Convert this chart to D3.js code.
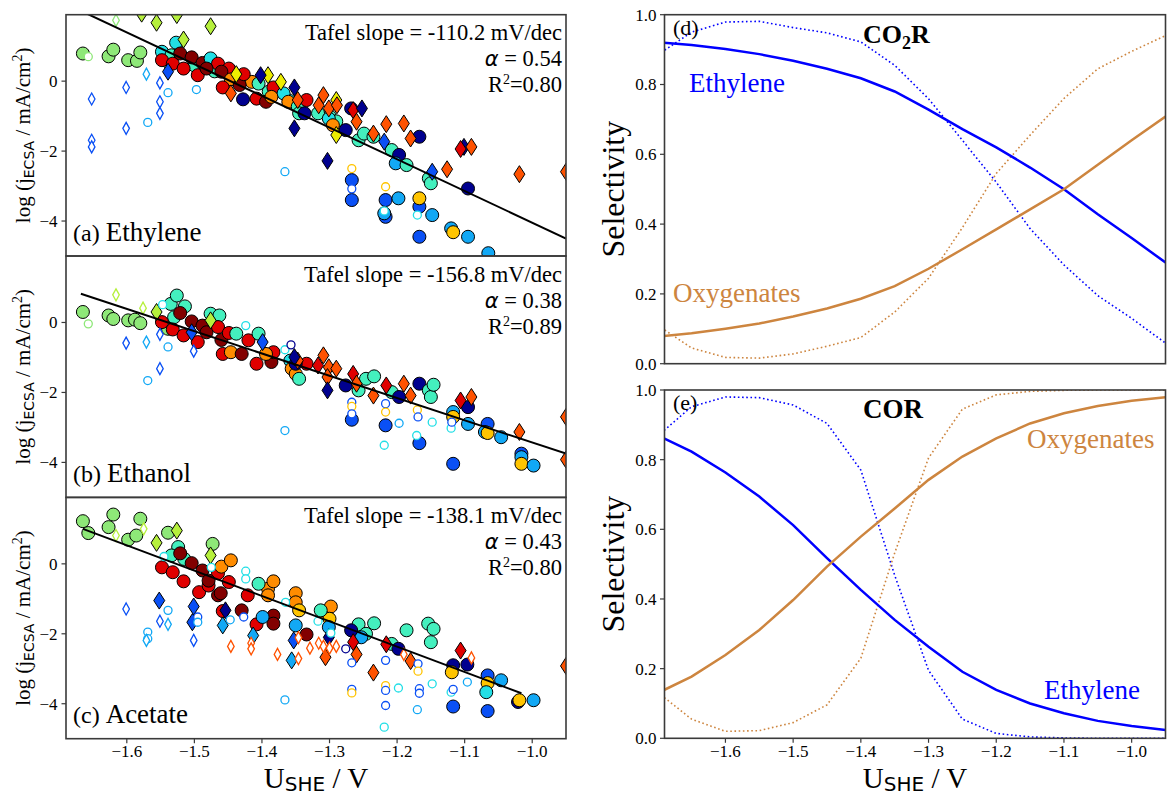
<!DOCTYPE html>
<html>
<head>
<meta charset="utf-8">
<script src="https://cdnjs.cloudflare.com/ajax/libs/d3/7.8.5/d3.min.js"></script>
<style>
    body { margin: 0; background: #fff; }
    svg { display: block; }
    text { font-family: "Liberation Serif", "Times New Roman", serif; fill: #000; }
</style>
</head>
<body>
<svg id="fig" width="1167" height="796"></svg>
<script>
// jet-like colours used by the markers
var jet = {
    nv: '#00008f', bl: '#0a50f5', sk: '#12a8f5', cy: '#22dfe6', tl: '#44f0be',
    lg: '#8ee878', yg: '#b6f03c', ye: '#eeee00', gd: '#ffc400', or: '#ff8c00',
    ro: '#ff5200', rd: '#e00000', dr: '#820000'
};

// ---- (a) Ethylene : [U_SHE, log j, colour]
var ethyleneCircles = [
    [-1.665,0.79,'lg'],[-1.627,0.71,'lg'],[-1.620,0.90,'lg'],[-1.598,0.60,'lg'],[-1.585,0.58,'lg'],[-1.580,0.82,'lg'],
    [-1.539,0.55,'lg'],[-1.548,0.84,'cy'],[-1.527,1.10,'cy'],[-1.534,0.74,'tl'],[-1.500,0.45,'tl'],[-1.470,0.28,'tl'],
    [-1.440,0.15,'cy'],[-1.415,-0.02,'or'],[-1.390,-0.30,'tl'],[-1.360,-0.55,'cy'],[-1.300,-1.00,'tl'],[-1.290,-1.15,'tl'],
    [-1.548,0.60,'rd'],[-1.532,0.50,'rd'],[-1.516,0.36,'rd'],[-1.495,0.17,'rd'],
    [-1.521,0.79,'dr'],[-1.504,0.68,'dr'],[-1.488,0.52,'dr'],[-1.476,0.65,'cy'],[-1.465,0.50,'rd'],
    [-1.482,0.36,'dr'],[-1.449,0.36,'rd'],[-1.460,0.27,'dr'],[-1.446,0.05,'or'],[-1.458,-0.18,'rd'],
    [-1.433,-0.11,'dr'],[-1.427,0.20,'rd'],[-1.405,-0.07,'tl'],[-1.428,-0.52,'nv'],[-1.408,-0.50,'rd'],
    [-1.394,-0.59,'dr'],[-1.383,-0.18,'rd'],[-1.368,-0.35,'cy'],[-1.386,-0.45,'or'],[-1.361,-0.59,'or'],
    [-1.347,-0.73,'tl'],[-1.345,-0.92,'tl'],[-1.334,-0.54,'rd'],[-1.337,-0.92,'nv'],[-1.317,-0.92,'tl'],
    [-1.301,-1.07,'cy'],[-1.295,-1.26,'or'],[-1.276,-1.40,'nv'],[-1.268,-0.78,'nv'],[-1.257,-1.69,'tl'],
    [-1.249,-1.50,'tl'],[-1.235,-1.59,'tl'],[-1.208,-1.97,'tl'],[-1.197,-2.11,'nv'],[-1.202,-2.35,'sk'],
    [-1.186,-2.40,'tl'],[-1.167,-1.59,'nv'],[-1.153,-2.78,'tl'],[-1.150,-2.92,'tl'],[-1.095,-3.07,'nv'],
    [-1.267,-2.83,'bl'],[-1.267,-3.40,'bl'],[-1.217,-3.40,'bl'],[-1.217,-3.88,'bl'],[-1.219,-3.78,'sk'],
    [-1.198,-3.35,'sk'],[-1.167,-3.59,'bl'],[-1.167,-4.45,'bl'],[-1.167,-3.35,'gd'],[-1.148,-3.83,'sk'],
    [-1.120,-4.21,'sk'],[-1.117,-4.32,'gd'],[-1.095,-4.45,'sk'],[-1.065,-4.92,'sk']
];
var ethyleneDiamonds = [
    [-1.578,1.93,'yg'],[-1.556,1.67,'yg'],[-1.526,1.89,'yg'],[-1.516,1.19,'yg'],[-1.476,1.57,'yg'],
    [-1.539,0.27,'bl'],[-1.438,0.20,'ye'],[-1.391,0.17,'ye'],[-1.372,-0.02,'ye'],[-1.290,-0.54,'ye'],[-1.290,-1.54,'ye'],
    [-1.446,-0.35,'ro'],[-1.347,-0.54,'ro'],[-1.316,-0.69,'ro'],[-1.309,-0.40,'ro'],[-1.301,-0.78,'ro'],[-1.289,-0.69,'ro'],
    [-1.265,-0.83,'rd'],[-1.260,-1.16,'ro'],[-1.235,-1.50,'ro'],[-1.216,-1.23,'ro'],[-1.190,-1.21,'ro'],[-1.180,-1.64,'ro'],
    [-1.126,-2.52,'ro'],[-1.101,-1.88,'nv'],[-1.106,-1.94,'rd'],[-1.090,-1.88,'ro'],[-1.019,-2.66,'ro'],[-0.950,-2.59,'ro'],
    [-1.352,-0.18,'nv'],[-1.352,-1.35,'nv'],[-1.303,-2.28,'nv'],[-1.252,-0.78,'nv'],
    [-1.219,-1.73,'bl'],[-1.148,-2.59,'bl'],[-1.402,0.17,'nv']
];
var ethyleneOpenCircles = [
    [-1.657,0.70,'lg'],[-1.539,-0.33,'sk'],[-1.569,-1.18,'sk'],[-1.497,-0.24,'sk'],[-1.366,-2.59,'sk'],
    [-1.267,-2.50,'gd'],[-1.267,-3.08,'bl'],[-1.217,-3.02,'gd'],[-1.219,-3.71,'cy'],[-1.170,-3.83,'cy']
];
var ethyleneOpenDiamonds = [
    [-1.616,1.74,'lg'],[-1.652,-0.51,'bl'],[-1.652,-1.69,'bl'],[-1.652,-1.88,'bl'],[-1.601,-0.18,'bl'],
    [-1.601,-1.35,'bl'],[-1.571,0.20,'sk'],[-1.551,-0.05,'bl'],[-1.551,-0.59,'bl'],[-1.551,-0.92,'bl']
];
var ethyleneFit = [[-1.69, 2.21], [-0.95, -4.50]];

// ---- (b) Ethanol
var ethanolCircles = [
    [-1.665,0.30,'lg'],[-1.627,0.20,'lg'],[-1.620,0.10,'lg'],[-1.598,0.06,'lg'],[-1.588,0.08,'lg'],[-1.580,-0.02,'lg'],
    [-1.535,0.53,'tl'],[-1.526,0.77,'tl'],[-1.514,0.46,'tl'],[-1.530,0.15,'tl'],[-1.539,-0.18,'lg'],
    [-1.548,0.01,'rd'],[-1.532,-0.20,'rd'],[-1.516,-0.37,'rd'],[-1.495,-0.56,'rd'],
    [-1.521,0.27,'dr'],[-1.504,0.03,'dr'],[-1.488,-0.09,'dr'],[-1.482,-0.28,'dr'],
    [-1.476,0.25,'tl'],[-1.463,0.20,'tl'],[-1.465,-0.13,'rd'],[-1.460,-0.50,'dr'],[-1.458,-0.90,'rd'],
    [-1.449,-0.30,'rd'],[-1.438,-0.32,'tl'],[-1.446,-0.85,'or'],[-1.430,-0.90,'dr'],[-1.420,-0.51,'rd'],
    [-1.405,-0.32,'tl'],[-1.408,-1.18,'rd'],[-1.386,-1.13,'dr'],[-1.383,-0.85,'rd'],[-1.394,-0.90,'or'],
    [-1.358,-1.09,'cy'],[-1.356,-1.32,'or'],[-1.350,-1.47,'or'],[-1.345,-1.61,'tl'],[-1.334,-1.18,'rd'],[-1.350,-1.18,'nv'],
    [-1.276,-1.80,'nv'],[-1.257,-1.94,'tl'],[-1.246,-1.61,'tl'],[-1.234,-1.54,'tl'],[-1.208,-1.99,'tl'],[-1.197,-2.13,'nv'],
    [-1.167,-1.75,'nv'],[-1.153,-1.94,'tl'],[-1.150,-2.13,'tl'],[-1.146,-1.78,'tl'],
    [-1.117,-2.56,'sk'],[-1.117,-2.70,'gd'],[-1.095,-2.42,'nv'],[-1.095,-2.90,'sk'],
    [-1.066,-2.90,'bl'],[-1.070,-3.13,'sk'],[-1.066,-3.16,'gd'],[-1.046,-3.28,'sk'],
    [-1.016,-3.75,'bl'],[-1.016,-3.85,'sk'],[-1.016,-4.04,'gd'],[-0.998,-4.09,'sk'],
    [-1.267,-2.78,'bl'],[-1.217,-2.94,'bl'],[-1.167,-3.45,'bl'],[-1.117,-4.04,'bl']
];
var ethanolDiamonds = [
    [-1.556,0.30,'yg'],[-1.476,0.06,'yg'],[-1.504,-0.28,'bl'],[-1.399,-0.56,'bl'],
    [-1.347,-1.09,'ro'],[-1.317,-1.23,'rd'],[-1.309,-0.94,'ro'],[-1.301,-1.28,'ro'],[-1.290,-1.32,'ro'],[-1.303,-1.56,'ro'],
    [-1.265,-1.47,'rd'],[-1.260,-1.75,'ro'],[-1.235,-2.09,'ro'],[-1.216,-1.80,'rd'],[-1.190,-1.75,'ro'],[-1.180,-2.09,'ro'],
    [-1.106,-2.23,'rd'],[-1.090,-2.13,'ro'],[-1.019,-3.13,'ro'],[-0.950,-2.70,'ro'],[-0.950,-3.92,'ro'],
    [-1.303,-1.94,'nv'],[-1.352,-0.99,'nv']
];
var ethanolOpenCircles = [
    [-1.657,-0.04,'lg'],[-1.547,0.51,'cy'],[-1.539,-0.70,'sk'],[-1.569,-1.66,'sk'],[-1.424,-0.09,'cy'],
    [-1.366,-0.78,'cy'],[-1.357,-0.64,'nv'],[-1.366,-3.09,'sk'],
    [-1.267,-2.28,'bl'],[-1.267,-2.40,'gd'],[-1.267,-2.61,'bl'],[-1.217,-2.32,'bl'],[-1.217,-2.56,'gd'],
    [-1.219,-3.51,'cy'],[-1.197,-2.88,'sk'],[-1.170,-2.50,'gd'],[-1.169,-2.70,'bl'],[-1.171,-3.23,'cy'],
    [-1.148,-2.85,'cy'],[-1.120,-3.02,'cy'],[-1.119,-2.85,'bl']
];
var ethanolOpenDiamonds = [
    [-1.616,0.79,'yg'],[-1.576,0.41,'yg'],[-1.601,-0.59,'bl'],[-1.571,-0.56,'sk'],
    [-1.551,-0.34,'bl'],[-1.551,-1.32,'bl'],[-1.501,-0.82,'bl']
];
var ethanolFit = [[-1.668, 0.82], [-0.95, -3.75]];

// ---- (c) Acetate
var acetateCircles = [
    [-1.665,1.22,'lg'],[-1.657,0.88,'lg'],[-1.627,1.05,'lg'],[-1.620,1.41,'lg'],[-1.598,0.69,'lg'],[-1.586,0.81,'lg'],[-1.580,1.29,'lg'],
    [-1.539,0.89,'lg'],[-1.524,0.48,'tl'],[-1.534,0.24,'tl'],[-1.515,0.14,'tl'],[-1.473,0.57,'lg'],
    [-1.548,-0.10,'rd'],[-1.532,-0.24,'rd'],[-1.516,-0.50,'rd'],[-1.493,-0.81,'rd'],[-1.479,-0.62,'rd'],[-1.465,-0.27,'rd'],
    [-1.449,-0.52,'rd'],[-1.458,-1.35,'rd'],[-1.421,-0.90,'rd'],[-1.408,-1.73,'rd'],
    [-1.521,0.30,'dr'],[-1.504,0.02,'dr'],[-1.488,-0.19,'dr'],[-1.479,-0.48,'dr'],[-1.465,-0.90,'dr'],[-1.461,-0.84,'dr'],
    [-1.430,-1.33,'dr'],[-1.383,-1.48,'dr'],[-1.383,-1.71,'dr'],[-1.334,-2.02,'dr'],
    [-1.460,-0.08,'or'],[-1.446,0.10,'or'],[-1.391,-0.71,'or'],[-1.383,-0.50,'or'],[-1.391,-0.90,'or'],[-1.350,-0.84,'or'],
    [-1.350,-1.10,'or'],[-1.345,-1.33,'gd'],[-1.306,-1.43,'or'],[-1.298,-1.22,'or'],[-1.300,-1.57,'gd'],
    [-1.405,-0.57,'tl'],[-1.313,-1.33,'tl'],[-1.257,-1.73,'tl'],[-1.234,-1.70,'tl'],[-1.246,-2.00,'tl'],[-1.208,-2.29,'tl'],
    [-1.186,-1.90,'tl'],[-1.154,-1.71,'tl'],[-1.146,-1.86,'tl'],[-1.150,-2.24,'tl'],
    [-1.399,-1.52,'sk'],[-1.350,-1.76,'sk'],[-1.301,-1.81,'sk'],[-1.253,-2.10,'sk'],
    [-1.268,-1.90,'nv'],[-1.198,-2.43,'nv'],[-1.117,-2.90,'nv'],[-1.096,-2.88,'nv'],[-1.119,-3.10,'gd'],
    [-1.066,-3.19,'bl'],[-1.066,-3.41,'gd'],[-1.068,-3.67,'cy'],[-1.046,-3.33,'sk'],[-1.021,-3.95,'nv'],[-1.019,-3.90,'gd'],
    [-0.998,-3.90,'sk'],[-1.117,-4.08,'bl'],[-1.066,-4.21,'bl']
];
var acetateDiamonds = [
    [-1.556,0.60,'yg'],[-1.526,0.95,'yg'],[-1.476,0.24,'yg'],[-1.552,-1.05,'bl'],[-1.501,-1.22,'bl'],[-1.503,-1.67,'bl'],
    [-1.458,-1.76,'sk'],[-1.454,-1.33,'nv'],[-1.413,-2.05,'sk'],[-1.353,-2.19,'bl'],[-1.356,-2.76,'sk'],[-1.301,-2.10,'nv'],
    [-1.265,-2.24,'rd'],[-1.260,-2.59,'ro'],[-1.306,-2.67,'ro'],[-1.235,-3.11,'ro'],[-1.216,-2.30,'rd'],[-1.180,-2.78,'ro'],
    [-1.106,-2.48,'rd'],[-0.950,-2.92,'ro']
];
var acetateOpenCircles = [
    [-1.545,0.21,'cy'],[-1.539,-1.33,'sk'],[-1.569,-1.95,'sk'],[-1.569,-2.14,'sk'],[-1.495,-1.52,'bl'],[-1.495,-1.67,'sk'],
    [-1.475,-0.10,'cy'],[-1.447,-1.60,'sk'],[-1.424,-0.21,'cy'],[-1.424,-0.43,'cy'],[-1.427,-1.52,'bl'],[-1.365,-1.10,'cy'],
    [-1.366,-3.89,'sk'],[-1.317,-1.64,'cy'],[-1.298,-1.98,'cy'],[-1.276,-2.43,'nv'],[-1.267,-2.83,'bl'],[-1.267,-3.59,'bl'],
    [-1.267,-3.69,'gd'],[-1.217,-2.76,'bl'],[-1.217,-3.48,'gd'],[-1.217,-3.62,'bl'],[-1.217,-4.05,'bl'],[-1.219,-4.67,'cy'],
    [-1.198,-3.55,'cy'],[-1.169,-2.86,'bl'],[-1.169,-3.07,'gd'],[-1.167,-3.57,'bl'],[-1.167,-3.70,'bl'],[-1.170,-4.17,'sk'],
    [-1.148,-3.43,'cy'],[-1.120,-3.67,'cy'],[-1.117,-3.59,'bl'],[-1.096,-3.38,'sk']
];
var acetateOpenDiamonds = [
    [-1.616,0.81,'yg'],[-1.575,1.00,'yg'],[-1.601,-1.29,'bl'],[-1.551,-1.64,'bl'],[-1.539,-1.73,'sk'],[-1.501,-2.19,'bl'],
    [-1.571,-2.19,'sk'],[-1.446,-2.36,'ro'],[-1.416,-2.27,'ro'],[-1.416,-2.43,'ro'],[-1.377,-2.59,'ro'],[-1.346,-2.11,'ro'],
    [-1.346,-2.71,'ro'],[-1.329,-2.41,'ro'],[-1.316,-2.27,'ro'],[-1.309,-2.36,'ro'],[-1.300,-2.41,'ro'],[-1.290,-2.36,'ro'],
    [-1.190,-2.59,'ro'],[-1.090,-2.69,'ro']
];
var acetateFit = [[-1.665, 1.00], [-1.016, -3.70]];

// ---- selectivity curves (d) CO2R and (e) COR
var voltGrid = [-1.70,-1.65,-1.60,-1.55,-1.50,-1.45,-1.40,-1.35,-1.30,-1.25,-1.20,-1.15,-1.10,-1.05,-1.00,-0.95];
var co2rEthylene       = [0.921,0.913,0.902,0.887,0.868,0.845,0.818,0.780,0.728,0.672,0.620,0.562,0.500,0.428,0.360,0.290];
var co2rOxygenates     = [0.078,0.087,0.100,0.115,0.135,0.158,0.186,0.222,0.272,0.328,0.385,0.442,0.500,0.570,0.640,0.708];
var co2rEthyleneDot    = [0.885,0.950,0.979,0.981,0.963,0.948,0.922,0.855,0.759,0.640,0.520,0.387,0.283,0.195,0.130,0.059];
var co2rOxygenatesDot  = [0.110,0.045,0.018,0.016,0.028,0.050,0.075,0.148,0.245,0.390,0.545,0.655,0.760,0.845,0.895,0.940];
var corEthylene        = [0.870,0.823,0.763,0.694,0.612,0.517,0.426,0.340,0.263,0.191,0.139,0.100,0.072,0.050,0.035,0.024];
var corOxygenates      = [0.130,0.177,0.239,0.311,0.397,0.493,0.579,0.660,0.742,0.809,0.861,0.904,0.933,0.954,0.969,0.979];
var corEthyleneDot     = [0.868,0.952,0.980,0.978,0.957,0.904,0.770,0.468,0.195,0.055,0.014,0.004,0.001,0.000,0.000,0.000];
var corOxygenatesDot   = [0.132,0.055,0.020,0.022,0.045,0.096,0.230,0.532,0.805,0.945,0.986,0.996,0.999,1.000,1.000,1.000];

var xTicks = [-1.6,-1.5,-1.4,-1.3,-1.2,-1.1,-1.0];
var logTicks = [-4,-2,0];
var selTicks = [0,0.2,0.4,0.6,0.8,1.0];

var BLUE = '#0000ff', ORANGE = '#cd853f', FRAME = '#3a3a3a';

var svg = d3.select('#fig');
var fmt1 = d3.format('.1f');

var xLeft = d3.scaleLinear().domain([-1.69, -0.95]).range([66, 566]);
var xRight = d3.scaleLinear().domain([-1.69, -0.95]).range([664.5, 1165.5]);

function thinDiamond(hw, hh) {
    var p = d3.path();
    p.moveTo(0, -hh); p.lineTo(hw, 0); p.lineTo(0, hh); p.lineTo(-hw, 0); p.closePath();
    return p.toString();
}

function addClip(id, x0, y0, x1, y1) {
    svg.append('clipPath').attr('id', id).append('rect')
        .attr('x', x0).attr('y', y0).attr('width', x1 - x0).attr('height', y1 - y0);
}

function tafelPanel(p) {
    var y = d3.scaleLinear().domain([-5, 1.9]).range([p.bottom, p.top]);
    addClip('clip_' + p.id, 66, p.top, 566, p.bottom);
    var g = svg.append('g').attr('clip-path', 'url(#clip_' + p.id + ')');

    g.selectAll('circle.fc').data(p.circles).enter().append('circle')
        .attr('cx', d => xLeft(d[0])).attr('cy', d => y(d[1])).attr('r', 6.5)
        .attr('fill', d => jet[d[2]]).attr('stroke', '#000').attr('stroke-width', 1);

    g.selectAll('path.fd').data(p.diamonds).enter().append('path')
        .attr('d', thinDiamond(5.5, 8.5))
        .attr('transform', d => 'translate(' + xLeft(d[0]) + ',' + y(d[1]) + ')')
        .attr('fill', d => jet[d[2]]).attr('stroke', '#000').attr('stroke-width', 1);

    g.selectAll('circle.oc').data(p.openCircles).enter().append('circle')
        .attr('cx', d => xLeft(d[0])).attr('cy', d => y(d[1])).attr('r', 4)
        .attr('fill', '#fff').attr('stroke', d => jet[d[2]]).attr('stroke-width', 1.3);

    g.selectAll('path.od').data(p.openDiamonds).enter().append('path')
        .attr('d', thinDiamond(3.3, 6))
        .attr('transform', d => 'translate(' + xLeft(d[0]) + ',' + y(d[1]) + ')')
        .attr('fill', '#fff').attr('stroke', d => jet[d[2]]).attr('stroke-width', 1.3);

    g.append('path').datum(p.fit)
        .attr('d', d3.line().x(d => xLeft(d[0])).y(d => y(d[1])))
        .attr('fill', 'none').attr('stroke', '#000').attr('stroke-width', 2);

    svg.append('rect').attr('x', 66).attr('y', p.top).attr('width', 500).attr('height', p.bottom - p.top)
        .attr('fill', 'none').attr('stroke', FRAME).attr('stroke-width', 1.6);

    logTicks.forEach(function(t) {
        svg.append('line').attr('x1', 61.5).attr('x2', 66).attr('y1', y(t)).attr('y2', y(t))
            .attr('stroke', FRAME).attr('stroke-width', 1.2);
        svg.append('text').attr('x', 57.5).attr('y', y(t)).attr('dy', '0.35em')
            .attr('text-anchor', 'end').style('font-size', '17px')
            .text(t < 0 ? '\u2212' + Math.abs(t) : t);
    });

    // annotations
    svg.append('text').attr('x', 562).attr('y', p.top + 25.5).attr('text-anchor', 'end')
        .style('font-size', '22.5px').text('Tafel slope = ' + p.slope + ' mV/dec');
    var ta = svg.append('text').attr('x', 562).attr('y', p.top + 51.5).attr('text-anchor', 'end').style('font-size', '22.5px');
    ta.append('tspan').style('font-family', '"DejaVu Sans", sans-serif').style('font-style', 'italic').style('font-size', '21px').text('\u03b1');
    ta.append('tspan').text(' = ' + p.alpha);
    var tr = svg.append('text').attr('x', 562).attr('y', p.top + 77.5).attr('text-anchor', 'end').style('font-size', '22.5px');
    tr.append('tspan').text('R');
    tr.append('tspan').attr('dy', -8).style('font-size', '14px').text('2');
    tr.append('tspan').attr('dy', 8).text('=' + p.r2);

    var tn = svg.append('text').attr('x', 73).attr('y', p.top + 226);
    tn.append('tspan').style('font-size', '24px').text('(' + p.id + ') ');
    tn.append('tspan').style('font-size', '27px').text(p.name);

    // y label
    var cy = (p.top + p.bottom) / 2;
    var yl = svg.append('text').attr('transform', 'translate(30,' + cy + ') rotate(-90)')
        .attr('text-anchor', 'middle').style('font-size', '21px');
    yl.append('tspan').text('log (j');
    yl.append('tspan').attr('dy', 4).style('font-family', '"DejaVu Sans", sans-serif').style('font-size', '14px').text('ECSA');
    yl.append('tspan').attr('dy', -4).text(' / mA/cm');
    yl.append('tspan').attr('dy', -8).style('font-size', '14px').text('2');
    yl.append('tspan').attr('dy', 8).text(')');
}

function selPanel(p) {
    var y = d3.scaleLinear().domain([0, 1]).range([p.bottom, p.top]);
    addClip('clip_' + p.id, 664.5, p.top, 1165.5, p.bottom);
    var g = svg.append('g').attr('clip-path', 'url(#clip_' + p.id + ')');
    var line = d3.line().x((d, i) => xRight(voltGrid[i])).y(d => y(d));

    p.series.forEach(function(s) {
        g.append('path').datum(s.values).attr('d', line)
            .attr('fill', 'none').attr('stroke', s.color)
            .attr('stroke-width', s.dotted ? 1.6 : 2.5)
            .attr('stroke-dasharray', s.dotted ? '1.6,2.6' : null);
    });

    svg.append('rect').attr('x', 664.5).attr('y', p.top).attr('width', 501).attr('height', p.bottom - p.top)
        .attr('fill', 'none').attr('stroke', FRAME).attr('stroke-width', 1.6);

    selTicks.forEach(function(t) {
        svg.append('line').attr('x1', 660).attr('x2', 664.5).attr('y1', y(t)).attr('y2', y(t))
            .attr('stroke', FRAME).attr('stroke-width', 1.2);
        svg.append('text').attr('x', 656.5).attr('y', y(t)).attr('dy', '0.35em')
            .attr('text-anchor', 'end').style('font-size', '17px').text(fmt1(t));
    });

    svg.append('text').attr('x', 673).attr('y', p.top + 20).style('font-size', '22px').text('(' + p.id + ')');

    var tt = svg.append('text').attr('x', 863).attr('y', p.top + 28)
        .style('font-size', '26px').style('font-weight', 'bold');
    p.title.forEach(function(part) {
        tt.append('tspan').attr('dy', part.dy || 0).style('font-size', part.size || null).text(part.t);
    });

    p.labels.forEach(function(l) {
        svg.append('text').attr('x', l.x).attr('y', l.y).style('font-size', '27px')
            .style('fill', l.color).text(l.t);
    });

    svg.append('text').attr('transform', 'translate(624,' + (p.top + p.bottom) / 2 + ') rotate(-90)')
        .attr('text-anchor', 'middle').style('font-size', '32px').text('Selectivity');
}

function xAxisBottom(scale, bottom) {
    xTicks.forEach(function(t) {
        svg.append('line').attr('x1', scale(t)).attr('x2', scale(t)).attr('y1', bottom).attr('y2', bottom + 4.5)
            .attr('stroke', FRAME).attr('stroke-width', 1.2);
        svg.append('text').attr('x', scale(t)).attr('y', bottom + 18.5).attr('text-anchor', 'middle')
            .style('font-size', '17px').text(fmt1(t));
    });
    var cx = (scale.range()[0] + scale.range()[1]) / 2;
    var xl = svg.append('text').attr('x', cx).attr('y', 788).attr('text-anchor', 'middle').style('font-size', '29px');
    xl.append('tspan').text('U');
    xl.append('tspan').attr('dy', 2.5).style('font-family', '"DejaVu Sans", sans-serif').style('font-size', '20px').text('SHE');
    xl.append('tspan').attr('dy', -2.5).text(' / V');
}

[
    {id: 'a', name: 'Ethylene', top: 14.7, bottom: 256, circles: ethyleneCircles, diamonds: ethyleneDiamonds,
     openCircles: ethyleneOpenCircles, openDiamonds: ethyleneOpenDiamonds, fit: ethyleneFit,
     slope: '-110.2', alpha: '0.54', r2: '0.80'},
    {id: 'b', name: 'Ethanol', top: 256, bottom: 497.4, circles: ethanolCircles, diamonds: ethanolDiamonds,
     openCircles: ethanolOpenCircles, openDiamonds: ethanolOpenDiamonds, fit: ethanolFit,
     slope: '-156.8', alpha: '0.38', r2: '0.89'},
    {id: 'c', name: 'Acetate', top: 497.4, bottom: 738.7, circles: acetateCircles, diamonds: acetateDiamonds,
     openCircles: acetateOpenCircles, openDiamonds: acetateOpenDiamonds, fit: acetateFit,
     slope: '-138.1', alpha: '0.43', r2: '0.80'}
].forEach(tafelPanel);
xAxisBottom(xLeft, 738.7);

selPanel({
    id: 'd', top: 14.7, bottom: 363.7,
    series: [
        {values: co2rEthyleneDot, color: BLUE, dotted: true},
        {values: co2rOxygenatesDot, color: ORANGE, dotted: true},
        {values: co2rEthylene, color: BLUE},
        {values: co2rOxygenates, color: ORANGE}
    ],
    title: [{t: 'CO'}, {t: '2', dy: 6, size: '18px'}, {t: 'R', dy: -6}],
    labels: [{t: 'Ethylene', x: 689, y: 92, color: BLUE}, {t: 'Oxygenates', x: 673, y: 302, color: ORANGE}]
});
selPanel({
    id: 'e', top: 390, bottom: 738.3,
    series: [
        {values: corEthyleneDot, color: BLUE, dotted: true},
        {values: corOxygenatesDot, color: ORANGE, dotted: true},
        {values: corEthylene, color: BLUE},
        {values: corOxygenates, color: ORANGE}
    ],
    title: [{t: 'COR', size: '27px'}],
    labels: [{t: 'Oxygenates', x: 1027, y: 448, color: ORANGE}, {t: 'Ethylene', x: 1044, y: 699, color: BLUE}]
});
xAxisBottom(xRight, 738.3);
</script>
</body>
</html>
